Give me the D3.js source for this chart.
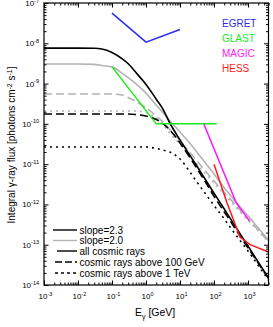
<!DOCTYPE html>
<html>
<head>
<meta charset="utf-8">
<script src="https://cdn.jsdelivr.net/npm/d3@7"></script>
<style>
body { margin: 0; background: #fff; }
text { font-family: "Liberation Sans", Arial, sans-serif; }
</style>
</head>
<body>
<div id="chart"></div>
<script>
const energy = [0.001, 0.01, 0.03, 0.05, 0.1, 0.2, 0.3, 0.5, 1, 2, 3, 5, 10, 20, 30, 50, 100, 200, 300, 500, 1000, 2000, 4000];

// integral flux, slope 2.3 (black) and slope 2.0 (gray)
const allCR23 = [7.6e-9, 7.6e-9, 7.5e-9, 7.2e-9, 5.9e-9, 4.1e-9, 3.1e-9, 1.9e-9, 9.5e-10, 4.1e-10, 2.5e-10, 1.05e-10, 4.0e-11, 1.6e-11, 9.5e-12, 4.8e-12, 1.9e-12, 7.7e-13, 4.5e-13, 2.3e-13, 9.3e-14, 3.7e-14, 1.5e-14];
const allCR20 = [3.05e-9, 3.05e-9, 3.0e-9, 2.8e-9, 2.6e-9, 1.8e-9, 1.4e-9, 1.0e-9, 5.8e-10, 2.9e-10, 2.0e-10, 1.2e-10, 6.3e-11, 3.2e-11, 2.1e-11, 1.2e-11, 5.7e-12, 2.6e-12, 1.7e-12, 1.0e-12, 5.2e-13, 2.6e-13, 1.3e-13];
const above100_23 = [1.76e-10, 1.76e-10, 1.76e-10, 1.76e-10, 1.76e-10, 1.76e-10, 1.75e-10, 1.70e-10, 1.57e-10, 1.28e-10, 1.05e-10, 7.05e-11, 3.35e-11, 1.42e-11, 8.3e-12, 4.2e-12, 1.6e-12, 6.5e-13, 3.9e-13, 2.0e-13, 8.3e-14, 3.5e-14, 1.45e-14];
const above100_20 = [5.5e-10, 5.5e-10, 5.5e-10, 5.5e-10, 5.5e-10, 5.2e-10, 4.5e-10, 3.6e-10, 2.5e-10, 1.57e-10, 1.15e-10, 7.3e-11, 3.8e-11, 1.9e-11, 1.27e-11, 7.6e-12, 3.8e-12, 2.0e-12, 1.36e-12, 8.4e-13, 4.35e-13, 2.3e-13, 1.2e-13];
const above1T_23 = [2.67e-11, 2.67e-11, 2.67e-11, 2.67e-11, 2.67e-11, 2.67e-11, 2.67e-11, 2.67e-11, 2.66e-11, 2.45e-11, 2.25e-11, 2.0e-11, 1.34e-11, 6.2e-12, 3.8e-12, 2.1e-12, 9.4e-13, 4.35e-13, 2.7e-13, 1.5e-13, 7.0e-14, 3.05e-14, 1.33e-14];
const above1T_20 = [2.09e-10, 2.09e-10, 2.09e-10, 2.09e-10, 2.09e-10, 2.09e-10, 2.09e-10, 2.08e-10, 1.91e-10, 1.36e-10, 9.9e-11, 5.9e-11, 3.1e-11, 1.55e-11, 1.04e-11, 6.4e-12, 3.4e-12, 1.8e-12, 1.22e-12, 7.5e-13, 4.0e-13, 2.2e-13, 1.17e-13];

// instrument sensitivities
const egretE = [0.1, 1, 10];
const egretF = [5.6e-8, 1.07e-8, 2.2e-8];
const glastE = [0.1, 2, 120];
const glastF = [2.6e-9, 1.0e-10, 1.0e-10];
const magicE = [50, 450, 1100];
const magicF = [1.0e-10, 1.1e-12, 3.9e-13];
const hessE = [100, 240, 580, 1150, 4000];
const hessF = [1.0e-11, 1.1e-12, 1.55e-13, 1.0e-13, 6.6e-14];

const instruments = ["EGRET", "GLAST", "MAGIC", "HESS"];
const xTickExp = [-3, -2, -1, 0, 1, 2, 3];
const yTickExp = [-14, -13, -12, -11, -10, -9, -8, -7];

const W = 273, H = 327;
const x = d3.scaleLog().domain([1e-3, 4e3]).range([44, 268.5]);
const y = d3.scaleLog().domain([1e-14, 1e-7]).range([285, 3]);

const svg = d3.select("#chart").append("svg").attr("width", W).attr("height", H);

svg.append("clipPath").attr("id", "clip").append("rect")
  .attr("x", 44).attr("y", 3).attr("width", 224.5).attr("height", 282);

const plot = svg.append("g").attr("clip-path", "url(#clip)");

const smooth = d3.line().x(d => x(d[0])).y(d => y(d[1])).curve(d3.curveMonotoneX);
const straight = d3.line().x(d => x(d[0])).y(d => y(d[1]));
const zipE = f => energy.map((e, i) => [e, f[i]]);
const zip = (a, b) => a.map((e, i) => [e, b[i]]);

const gray = "#b3b3b3";
const curves = [
  {d: allCR20, c: gray, dash: null},
  {d: above100_20, c: gray, dash: "8,4"},
  {d: above1T_20, c: gray, dash: "2,4"},
  {d: allCR23, c: "#000", dash: null},
  {d: above100_23, c: "#000", dash: "8,4"},
  {d: above1T_23, c: "#000", dash: "2,4"}
];
curves.forEach(k => {
  plot.append("path").attr("d", smooth(zipE(k.d)))
    .attr("fill", "none").attr("stroke", k.c).attr("stroke-width", 1.6)
    .attr("stroke-dasharray", k.dash);
});

const colors = {EGRET: "#2b2bf2", GLAST: "#19ec19", MAGIC: "#ff19ff", HESS: "#ff1a1a"};
[[egretE, egretF, "EGRET"], [glastE, glastF, "GLAST"], [magicE, magicF, "MAGIC"], [hessE, hessF, "HESS"]].forEach(s => {
  plot.append("path").attr("d", straight(zip(s[0], s[1])))
    .attr("fill", "none").attr("stroke", colors[s[2]]).attr("stroke-width", 1.5);
});

// axes with inward ticks on all four sides
function minors(lo, hi) {
  const v = [];
  for (let p = lo; p <= hi; p++) for (let k = 2; k <= 9; k++) v.push(k * Math.pow(10, p));
  return v;
}
const xMaj = xTickExp.map(p => Math.pow(10, p));
const xMin = minors(-3, 3).filter(v => v <= 4e3);
const yMaj = yTickExp.map(p => Math.pow(10, p));
const yMin = minors(-14, -8);

function addAxis(gen, scale, vals, size, tr) {
  const g = svg.append("g").attr("transform", tr)
    .call(gen(scale).tickValues(vals).tickSize(-size).tickFormat(""));
  g.select(".domain").remove();
  g.selectAll("line").attr("stroke", "#000").attr("stroke-width", 1);
}
addAxis(d3.axisBottom, x, xMaj, 4.5, "translate(0,285)");
addAxis(d3.axisBottom, x, xMin, 2.5, "translate(0,285)");
addAxis(d3.axisTop, x, xMaj, 4.5, "translate(0,3)");
addAxis(d3.axisTop, x, xMin, 2.5, "translate(0,3)");
addAxis(d3.axisLeft, y, yMaj, 4.5, "translate(44,0)");
addAxis(d3.axisLeft, y, yMin, 2.5, "translate(44,0)");
addAxis(d3.axisRight, y, yMaj, 4.5, "translate(268.5,0)");
addAxis(d3.axisRight, y, yMin, 2.5, "translate(268.5,0)");

svg.append("rect").attr("x", 44).attr("y", 3).attr("width", 224.5).attr("height", 282)
  .attr("fill", "none").attr("stroke", "#000").attr("stroke-width", 1.2);

// tick labels: 10 with superscript exponent
function powLabel(g, xp, yp, p, anchor) {
  const t = g.append("text").attr("x", xp).attr("y", yp).attr("text-anchor", anchor)
    .attr("font-size", 8).attr("fill", "#000");
  t.append("tspan").text("10");
  t.append("tspan").attr("dy", -3.5).attr("font-size", 5.5).text(p);
}
xTickExp.forEach(p => powLabel(svg, x(Math.pow(10, p)) + 1.5, 299, p, "middle"));
yTickExp.forEach(p => powLabel(svg, 39, y(Math.pow(10, p)) + 3, p, "end"));

// axis titles
const yt = svg.append("text").attr("transform", "translate(15,145) rotate(-90)")
  .attr("text-anchor", "middle").attr("font-size", 10).attr("fill", "#000");
yt.append("tspan").text("Integral \u03b3-ray flux [photons cm");
yt.append("tspan").attr("dy", -3.5).attr("font-size", 7).text("-2");
yt.append("tspan").attr("dy", 3.5).text(" s");
yt.append("tspan").attr("dy", -3.5).attr("font-size", 7).text("-1");
yt.append("tspan").attr("dy", 3.5).text("]");

const xt = svg.append("text").attr("x", 135).attr("y", 316)
  .attr("font-size", 10.5).attr("fill", "#000");
xt.append("tspan").text("E");
xt.append("tspan").attr("dy", 2.5).attr("font-size", 7).text("\u03b3");
xt.append("tspan").attr("dy", -2.5).text(" [GeV]");

// instrument legend
instruments.forEach((n, i) => {
  svg.append("text").attr("x", 222).attr("y", 26.5 + i * 15.3)
    .attr("font-size", 10).attr("fill", colors[n]).text(n);
});

// line style legend
const leg = [
  {t: "slope=2.3", c: "#000", dash: null, y0: 230, x0: 53},
  {t: "slope=2.0", c: gray, dash: null, y0: 240.5, x0: 53},
  {t: "all cosmic rays", c: "#000", dash: null, y0: 251, x0: 57},
  {t: "cosmic rays above 100 GeV", c: "#000", dash: "7,3", y0: 262, x0: 55},
  {t: "cosmic rays above 1 TeV", c: "#000", dash: "3,3", y0: 273, x0: 55}
];
leg.forEach(l => {
  svg.append("line").attr("x1", l.x0).attr("x2", 77).attr("y1", l.y0).attr("y2", l.y0)
    .attr("stroke", l.c).attr("stroke-width", 1.4).attr("stroke-dasharray", l.dash);
  svg.append("text").attr("x", 79.5).attr("y", l.y0 + 3.5)
    .attr("font-size", 10).attr("fill", "#000").text(l.t);
});
</script>
</body>
</html>
